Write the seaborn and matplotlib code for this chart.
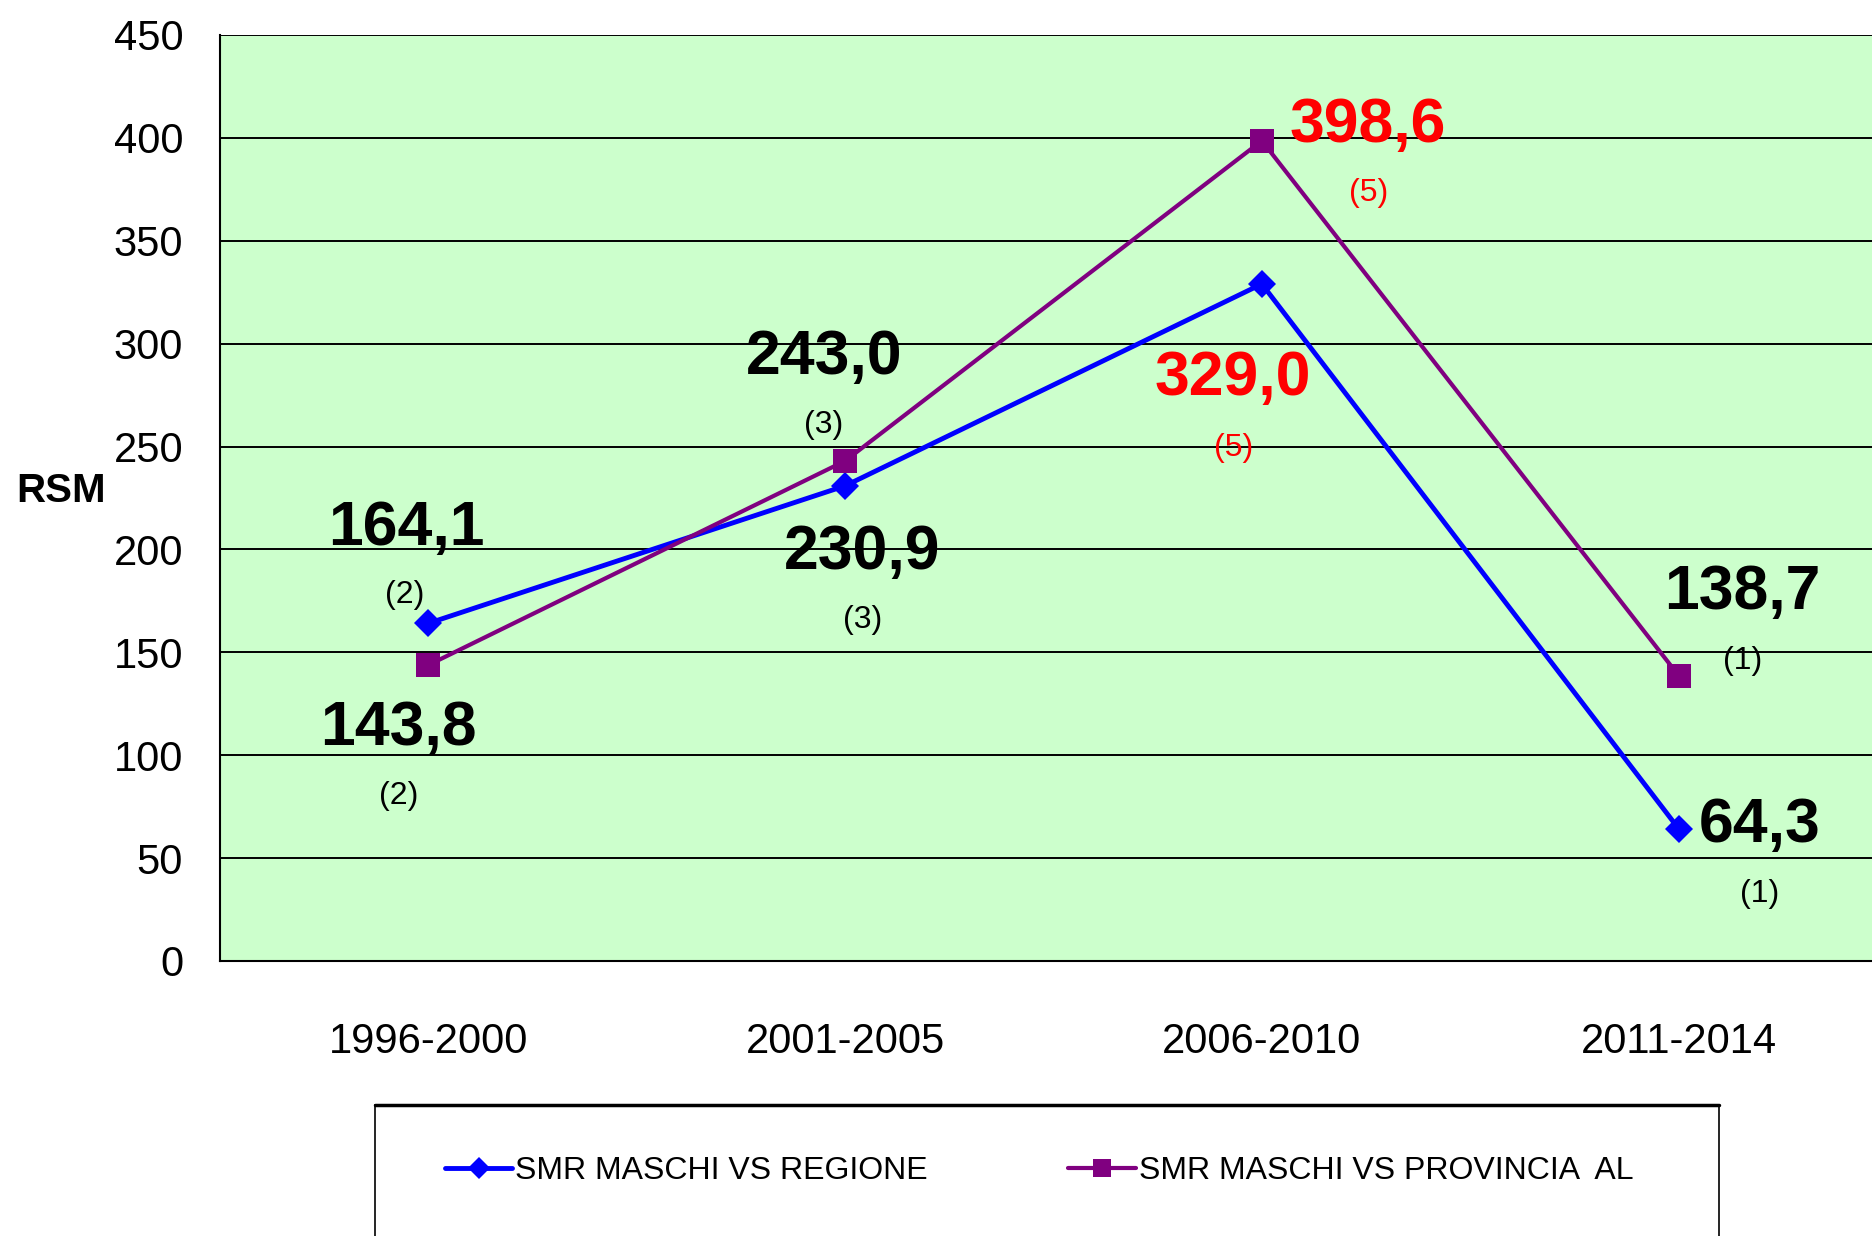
import numpy as np
import pandas as pd
import matplotlib.pyplot as plt
import seaborn as sns
from matplotlib.lines import Line2D
from matplotlib.patches import Rectangle
from matplotlib.ticker import FixedLocator

# dati
periodi = ['1996-2000', '2001-2005', '2006-2010', '2011-2014']
smr_regione = [164.1, 230.9, 329.0, 64.3]
smr_provincia = [143.8, 243.0, 398.6, 138.7]
casi_regione = ['(2)', '(3)', '(5)', '(1)']
casi_provincia = ['(2)', '(3)', '(5)', '(1)']
serie = ['SMR MASCHI VS REGIONE', 'SMR MASCHI VS PROVINCIA  AL']
periodo_evidenziato = '2006-2010'

df = pd.DataFrame({
    'periodo': periodi * 2,
    'smr': smr_regione + smr_provincia,
    'casi': casi_regione + casi_provincia,
    'serie': [serie[0]] * len(periodi) + [serie[1]] * len(periodi),
})

sns.set_style('white')
plt.rcParams['font.family'] = ['Liberation Sans', 'DejaVu Sans']
plt.rcParams['text.color'] = 'black'
plt.rcParams['axes.labelcolor'] = 'black'
plt.rcParams['xtick.color'] = 'black'
plt.rcParams['ytick.color'] = 'black'

fig = plt.figure(figsize=(18.72, 12.36), dpi=100)
ax = fig.add_axes([0.1175, 0.2225, 0.8905, 0.7492])
ax.set_facecolor('#CCFFCC')

# stile per serie
colori = {serie[0]: '#0000FF', serie[1]: '#800080'}
marker = {serie[0]: 'D', serie[1]: 's'}
msize = {serie[0]: 14, serie[1]: 17}
lwidth = {serie[0]: 3.5, serie[1]: 3.0}

for s in serie:
    sub = df[df['serie'] == s]
    sns.lineplot(data=sub, x='periodo', y='smr', color=colori[s], marker=marker[s],
                 markersize=msize[s], markeredgewidth=0, sort=False, legend=False, ax=ax)
    ax.lines[-1].set_linewidth(lwidth[s])

ax.set_xlim(-0.5, 3.5)
ax.set_ylim(0, 450)
ax.set_yticks(np.arange(0, 451, 50))
ax.yaxis.grid(True, color='black', linewidth=1.4)
ax.set_axisbelow(True)
for side in ['top', 'right']:
    ax.spines[side].set_visible(False)
for side in ['left', 'bottom']:
    ax.spines[side].set_color('black')
    ax.spines[side].set_linewidth(1.5)

ax.xaxis.set_minor_locator(FixedLocator([-0.5, 0.5, 1.5, 2.5]))
ax.tick_params(axis='x', which='major', length=0, pad=44, labelsize=30)
ax.tick_params(axis='x', which='minor', length=11, width=1.5, direction='out')
ax.tick_params(axis='y', length=10.5, width=1.5, direction='out', pad=16, labelsize=30)
ax.set_xlabel('')
ax.set_ylabel('RSM', rotation=0, fontsize=29, fontweight='bold', ha='center', va='center')
ax.yaxis.set_label_coords(-0.0954, 0.5076)

# etichette valori: offset in pixel (valore, casi)
offset_valori = {
    serie[0]: [(-22, 78), (17, -83), (-29, -111), (81, -13)],
    serie[1]: [(-30, -80), (-21, 87), (106, -1), (64, 67)],
}
offset_casi = {
    serie[0]: [(-24, 20), (18, -142), (-28, -172), (81, -73)],
    serie[1]: [(-30, -139), (-21, 28), (107, -60), (64, 7)],
}

for s in serie:
    sub = df[df['serie'] == s].reset_index(drop=True)
    for i, row in sub.iterrows():
        col = 'red' if row['periodo'] == periodo_evidenziato else 'black'
        testo = f"{row['smr']:.1f}".replace('.', ',')
        ax.annotate(testo, (row['periodo'], row['smr']), xytext=offset_valori[s][i],
                    textcoords='offset pixels', ha='center', va='baseline',
                    fontsize=45, fontweight='bold', color=col, annotation_clip=False)
        ax.annotate(row['casi'], (row['periodo'], row['smr']), xytext=offset_casi[s][i],
                    textcoords='offset pixels', ha='center', va='baseline',
                    fontsize=23, color=col, annotation_clip=False)

# legenda
handles = [Line2D([], [], color=colori[s], marker=marker[s], markersize=msize[s] * 0.8,
                  markeredgewidth=0, linewidth=lwidth[s]) for s in serie]
fig.legend(handles, serie, ncol=2, loc='center left',
           bbox_to_anchor=(445 / 1872, 1 - 1171 / 1236), frameon=False, fontsize=23,
           handlelength=2.1, handletextpad=0.1, columnspacing=4.4,
           borderpad=0, borderaxespad=0)
fig.add_artist(Rectangle((375 / 1872, -0.01), 1344 / 1872, 0.116, transform=fig.transFigure,
                         fill=False, edgecolor='black', linewidth=1.2))
fig.add_artist(Line2D([375 / 1872, 1719 / 1872], [1 - 1105 / 1236] * 2,
                      transform=fig.transFigure, color='black', linewidth=2.5))

plt.savefig('out.png', dpi=100)
